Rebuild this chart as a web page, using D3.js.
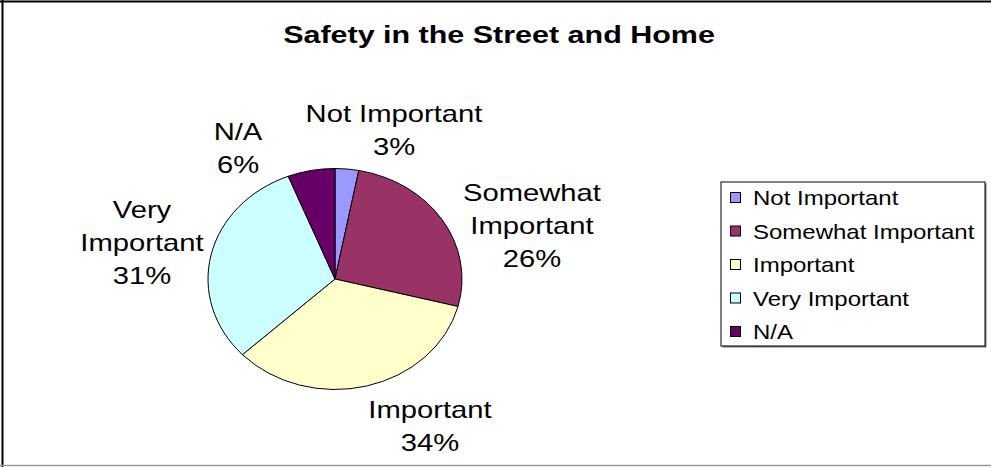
<!DOCTYPE html>
<html>
<head>
<meta charset="utf-8">
<script src="https://cdn.jsdelivr.net/npm/d3@7"></script>
<style>
  html, body { margin: 0; padding: 0; background: #fff; }
  svg { display: block; font-family: "Liberation Sans", Arial, sans-serif; }
</style>
</head>
<body>
<svg id="chart" width="991" height="467"></svg>
<script>
// Survey answers and their shares (percent)
const categories = ["Not Important", "Somewhat Important", "Important", "Very Important", "N/A"];
const shares = [3, 26, 34, 31, 6];
const colors = ["#9999FF", "#993366", "#FFFFCC", "#CCFFFF", "#660066"];
const title = "Safety in the Street and Home";

// Label lines and anchor positions around the pie
const labelLines = [
  ["Not Important"],
  ["Somewhat", "Important"],
  ["Important"],
  ["Very", "Important"],
  ["N/A"]
];
const labelPos = [
  [394, 122], [532, 201], [430, 418], [142, 218], [238, 140]
];

const W = 991, H = 467;
const svg = d3.select("#chart");
const stretchX = 1.27;   // text in this chart is drawn wide
const lineGap = 33;

// frame
svg.append("line").attr("x1", 0).attr("x2", W).attr("y1", 1.5).attr("y2", 1.5)
  .attr("stroke", "#000").attr("stroke-width", 2);
svg.append("line").attr("x1", 2.5).attr("x2", 2.5).attr("y1", 0).attr("y2", H)
  .attr("stroke", "#000").attr("stroke-width", 2);
svg.append("line").attr("x1", 0).attr("x2", W).attr("y1", 465.5).attr("y2", 465.5)
  .attr("stroke", "#999").attr("stroke-width", 1.5);

function wideText(g, x, y, str, size, weight, sx) {
  return g.append("text")
    .attr("transform", `translate(${x},${y}) scale(${sx || stretchX},1)`)
    .attr("text-anchor", "middle")
    .attr("font-size", size)
    .attr("font-weight", weight || "normal")
    .attr("fill", "#000")
    .text(str);
}

// title
wideText(svg, 499, 43, title, 24, "bold");

// pie
const cx = 335, cy = 279, rx = 127, ry = 110.5;
const pie = d3.pie().sort(null).value(d => d)(shares);
const arc = d3.arc().innerRadius(0).outerRadius(rx);
const pieG = svg.append("g").attr("transform", `translate(${cx},${cy}) scale(1,${ry / rx})`);
pieG.selectAll("path").data(pie).join("path")
  .attr("d", arc)
  .attr("fill", (d, i) => colors[i])
  .attr("stroke", "#000")
  .attr("stroke-width", 1)
  .attr("vector-effect", "non-scaling-stroke");

// data labels
const labG = svg.append("g");
categories.forEach((c, i) => {
  const [x, y] = labelPos[i];
  const lines = labelLines[i].concat([d3.format(".0f")(shares[i]) + "%"]);
  lines.forEach((t, k) => wideText(labG, x, y + k * lineGap, t, 23));
});

// legend
const lg = svg.append("g");
const lx = 721, ly = 182, lw = 264, lh = 164;
lg.append("rect").attr("x", lx + 1.5).attr("y", ly + 1.5).attr("width", lw).attr("height", lh)
  .attr("fill", "#777");
lg.append("rect").attr("x", lx).attr("y", ly).attr("width", lw).attr("height", lh)
  .attr("fill", "#fff").attr("stroke", "#000").attr("stroke-width", 1);
const itemY = d3.scalePoint().domain(categories).range([198, 332]);
categories.forEach((c, i) => {
  const y = itemY(c);
  lg.append("rect").attr("x", 730.5).attr("y", y - 5.5).attr("width", 10).attr("height", 10)
    .attr("fill", colors[i]).attr("stroke", "#000").attr("stroke-width", 1);
  lg.append("text")
    .attr("transform", `translate(753,${y + 7}) scale(1.2,1)`)
    .attr("font-size", 20)
    .attr("fill", "#000")
    .text(c);
});
</script>
</body>
</html>
